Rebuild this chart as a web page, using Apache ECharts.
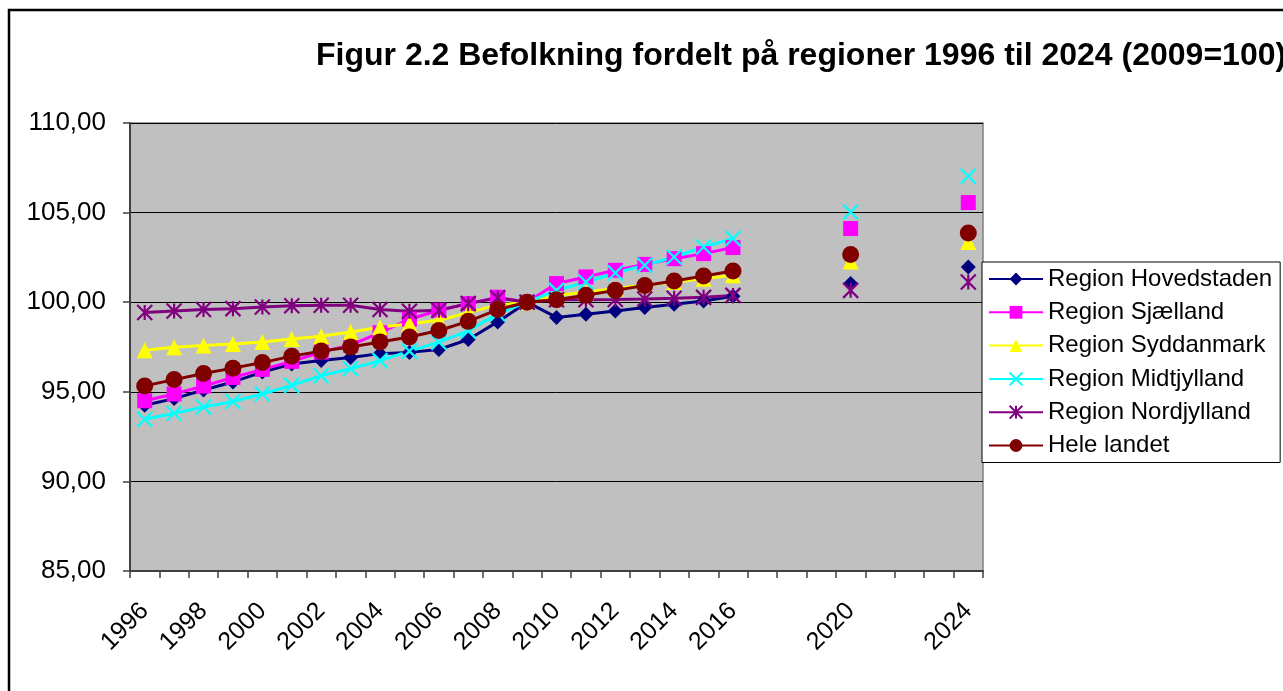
<!DOCTYPE html>
<html>
<head>
<meta charset="utf-8">
<script src="https://cdn.jsdelivr.net/npm/echarts@6/dist/echarts.min.js"></script>
<style>
  html, body { margin: 0; padding: 0; background: #fff; }
  #main { width: 1283px; height: 691px; }
</style>
</head>
<body>
<div id="main"></div>
<script>
// kategorier (år) og de år der får en etiket
const years = ['1996', '1997', '1998', '1999', '2000', '2001', '2002', '2003', '2004', '2005',
  '2006', '2007', '2008', '2009', '2010', '2011', '2012', '2013', '2014', '2015', '2016',
  '2017', '2018', '2019', '2020', '2021', '2022', '2023', '2024'];
const tickLabels = ['1996', '1998', '2000', '2002', '2004', '2006', '2008', '2010',
  '2012', '2014', '2016', '2020', '2024'];

// indeks 2009=100, null = intet tal
const hovedstaden = [94.25, 94.62, 95.10, 95.55, 96.10, 96.55, 96.75, 96.92, 97.13, 97.20,
  97.36, 97.92, 98.90, 100.00, 99.15, 99.33, 99.51, 99.70, 99.88, 100.07, 100.33,
  null, null, null, 101.04, null, null, null, 101.96];
const sjaelland = [94.50, 94.88, 95.32, 95.80, 96.25, 96.70, 97.22, 97.60, 98.30, 99.05,
  99.55, 99.92, 100.28, 100.00, 101.04, 101.41, 101.78, 102.11, 102.43, 102.71, 103.05,
  null, null, null, 104.11, null, null, null, 105.56];
const syddanmark = [97.32, 97.48, 97.59, 97.67, 97.78, 97.95, 98.10, 98.34, 98.60, 98.80,
  98.99, 99.42, 99.85, 100.00, 100.38, 100.57, 100.76, 100.94, 101.13, 101.31, 101.50,
  null, null, null, 102.27, null, null, null, 103.36];
const midtjylland = [93.47, 93.80, 94.15, 94.46, 94.88, 95.36, 95.90, 96.29, 96.74, 97.27,
  97.77, 98.40, 99.36, 100.00, 100.66, 101.13, 101.63, 102.06, 102.52, 103.08, 103.55,
  null, null, null, 105.03, null, null, null, 107.03];
const nordjylland = [99.42, 99.51, 99.59, 99.64, 99.73, 99.80, 99.83, 99.83, 99.59, 99.50,
  99.55, 99.92, 100.24, 100.00, 100.14, 100.14, 100.15, 100.18, 100.22, 100.27, 100.38,
  null, null, null, 100.66, null, null, null, 101.13];
const heleLandet = [95.33, 95.68, 96.02, 96.32, 96.63, 96.99, 97.27, 97.50, 97.78, 98.06,
  98.42, 98.93, 99.59, 100.00, 100.14, 100.39, 100.66, 100.93, 101.18, 101.46, 101.74,
  null, null, null, 102.66, null, null, null, 103.86];

const font = "'Liberation Sans', Arial, sans-serif";
const crossPath = 'path://M0,0L12,12M12,0L0,12';
const starPath = 'path://M6,0L6,12M0,0L12,12M12,0L0,12';

function lineSerie(name, data, color, symbol, size, stroke) {
  return {
    type: 'line',
    name: name,
    data: data,
    symbol: symbol,
    symbolSize: size,
    showAllSymbol: true,
    connectNulls: false,
    lineStyle: { color: color, width: 3 },
    itemStyle: stroke
      ? { color: color, borderColor: color, borderWidth: 2.2 }
      : { color: color, borderWidth: 0 },
    emphasis: { disabled: true },
  };
}

const myChart = echarts.init(document.getElementById('main'));
const option = {
  animation: false,
  textStyle: { fontFamily: font },
  graphic: [
    {
      type: 'rect',
      shape: { x: 9, y: 10, width: 1400, height: 800 },
      style: { fill: 'none', stroke: '#000', lineWidth: 2.5 },
      z: -1,
    },
  ],
  title: {
    text: 'Figur 2.2 Befolkning fordelt på regioner 1996 til 2024 (2009=100)',
    left: 316,
    top: 40,
    padding: 0,
    textStyle: { fontFamily: font, fontSize: 32, fontWeight: 'bold', color: '#000' },
  },
  grid: {
    left: 130,
    right: 300,
    top: 123,
    bottom: 120,
    show: true,
    backgroundColor: '#C0C0C0',
    borderColor: '#808080',
    borderWidth: 1.5,
  },
  legend: {
    orient: 'vertical',
    left: 982,
    top: 262,
    padding: [5, 8, 5, 6],
    itemWidth: 54,
    itemHeight: 16,
    itemGap: 9.3,
    backgroundColor: '#fff',
    borderColor: '#000',
    borderWidth: 1,
    textStyle: { fontFamily: font, fontSize: 24, lineHeight: 24, color: '#000' },
  },
  xAxis: {
    type: 'category',
    data: years,
    boundaryGap: true,
    axisLine: { lineStyle: { color: '#404040', width: 2 } },
    axisTick: { show: true, interval: 0, length: 7, lineStyle: { color: '#404040', width: 1.5 } },
    axisLabel: {
      interval: (i, v) => tickLabels.includes(v),
      rotate: 45,
      margin: 36,
      verticalAlign: 'middle',
      fontFamily: font,
      fontSize: 25,
      color: '#000',
    },
    splitLine: { show: false },
  },
  yAxis: {
    type: 'value',
    min: 85,
    max: 110,
    interval: 5,
    axisLine: { show: true, lineStyle: { color: '#404040', width: 2 } },
    axisTick: { show: true, length: 7, lineStyle: { color: '#404040', width: 1.5 } },
    axisLabel: {
      margin: 24,
      fontFamily: font,
      fontSize: 26,
      color: '#000',
      formatter: (v) => v.toFixed(2).replace('.', ','),
    },
    splitLine: { lineStyle: { color: '#000', width: 1 } },
  },
  series: [
    lineSerie('Region Hovedstaden', hovedstaden, '#000080', 'diamond', 15, false),
    lineSerie('Region Sjælland', sjaelland, '#FF00FF', 'rect', 15, false),
    lineSerie('Region Syddanmark', syddanmark, '#FFFF00', 'triangle', 16, false),
    lineSerie('Region Midtjylland', midtjylland, '#00FFFF', crossPath, 15, true),
    lineSerie('Region Nordjylland', nordjylland, '#800080', starPath, 15, true),
    lineSerie('Hele landet', heleLandet, '#800000', 'circle', 17, false),
  ],
};
myChart.setOption(option);
</script>
</body>
</html>
